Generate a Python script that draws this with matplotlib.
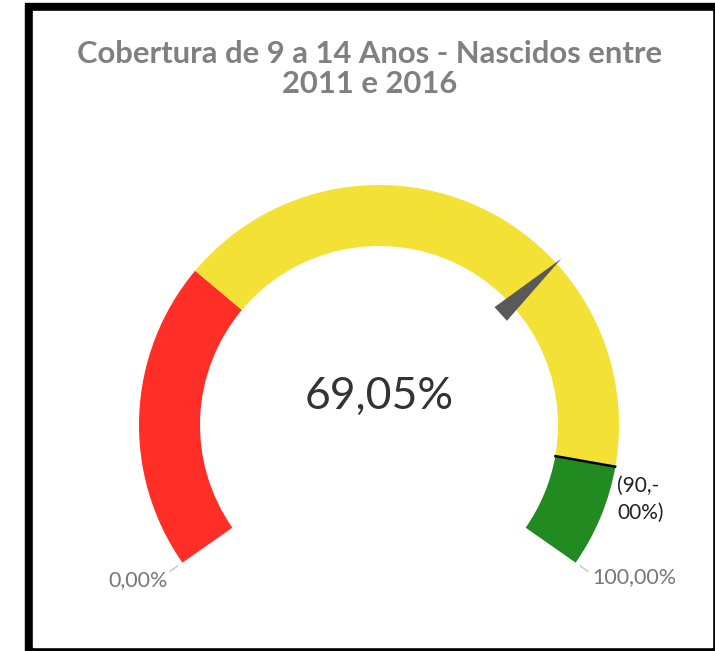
import numpy as np
import matplotlib
matplotlib.use("Agg")
import matplotlib.pyplot as plt
from matplotlib.patches import Wedge, Polygon, Rectangle

# gauge data
title = "Cobertura de 9 a 14 Anos - Nascidos entre\n2011 e 2016"
value = 69.05
band_edges = [0, 30, 90, 100]
band_colors = ["#ff2e26", "#f4e135", "#218a20"]
ref_value = 90
ref_label = "(90,-\n00%)"
min_label = "0,00%"
max_label = "100,00%"
value_label = "69,05%"

W, H = 715, 651
cx, cy = 379, H - 425          # gauge centre (pixel coords, y up)
r_out, r_in = 240, 179
a0, span = 215.0, 250.0        # start angle and sweep in degrees


def ang(v):
    return a0 - v / 100.0 * span


def pt(r, deg):
    t = np.deg2rad(deg)
    return cx + r * np.cos(t), cy + r * np.sin(t)


fig = plt.figure(figsize=(W / 100, H / 100), dpi=100)
ax = fig.add_axes([0, 0, 1, 1])
ax.set_xlim(0, W); ax.set_ylim(0, H)
ax.axis("off")

# black frame
ax.add_patch(Rectangle((25, -20), 720, H - 3 + 20, color="black", zorder=0))
ax.add_patch(Rectangle((33, H - 647), 711.5 - 33, 647 - 11, color="white", zorder=0))

# coloured bands
for lo, hi, col in zip(band_edges[:-1], band_edges[1:], band_colors):
    ax.add_patch(Wedge((cx, cy), r_out, ang(hi), ang(lo), width=r_out - r_in,
                       facecolor=col, edgecolor="none", zorder=2))

# reference line at 90%
x1, y1 = pt(r_in - 1, ang(ref_value))
x2, y2 = pt(r_out + 1, ang(ref_value))
ax.plot([x1, x2], [y1, y2], color="black", lw=1.8, zorder=3, solid_capstyle="butt")
ax.text(617, H - 499, ref_label, ha="left", va="center", fontsize=15,
        family="Lato", color="#222222", linespacing=1.45, zorder=4)

# end ticks + labels
for v in (0, 100):
    tx1, ty1 = pt(r_out + 6, ang(v))
    tx2, ty2 = pt(r_out + 15, ang(v))
    ax.plot([tx1, tx2], [ty1, ty2], color="#cccccc", lw=1.2, zorder=3)
ax.text(168, H - 580, min_label, ha="right", va="center", fontsize=15.5,
        family="Lato", color="#777777")
ax.text(592, H - 577, max_label, ha="left", va="center", fontsize=15.5,
        family="Lato", color="#777777")

# pointer
pa = ang(value)
tip = pt(247, pa)
b1 = pt(165, pa + 3.2)
b2 = pt(165, pa - 3.2)
ax.add_patch(Polygon([tip, b1, b2], closed=True, facecolor="#595959",
                     edgecolor="none", zorder=5))

# centre value
ax.text(cx, H - 396, value_label, ha="center", va="center", fontsize=32,
        family="Lato", color="#333333")

# title
ax.text(370, H - 69, title, ha="center", va="center", fontsize=22.3,
        family="Lato", weight="bold", color="#808080", linespacing=1.12)

fig.savefig("out.png", dpi=100)
